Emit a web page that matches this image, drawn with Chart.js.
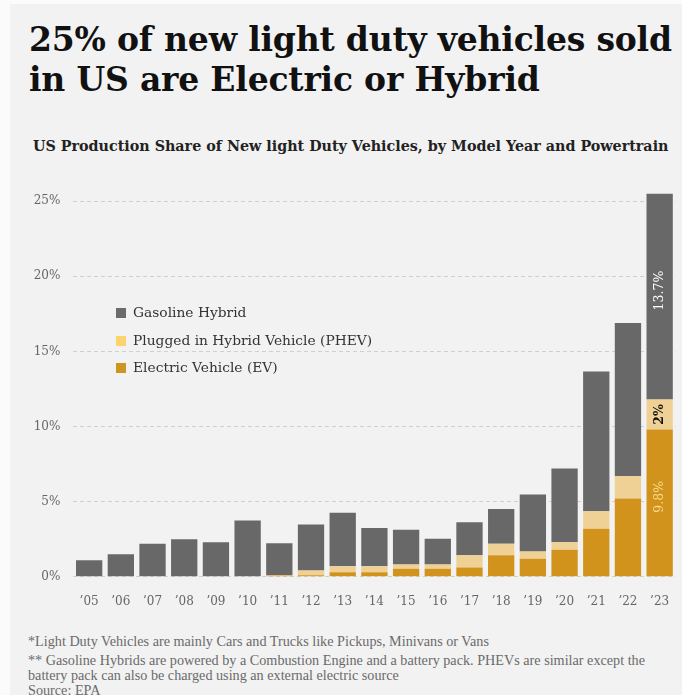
<!DOCTYPE html>
<html>
<head>
<meta charset="utf-8">
<script src="https://cdn.jsdelivr.net/npm/chart.js@4"></script>
<style>
  html, body { margin: 0; padding: 0; }
  body {
    width: 682px; height: 695px; overflow: hidden; position: relative;
    background: #f2f2f2; font-family: 'DejaVu Serif', serif;
    border-left: 10px solid #fbfbfb; border-top: 4px solid #fbfbfb; box-sizing: border-box;
  }
  .abs { position: absolute; white-space: nowrap; }
  #title { left: 19px; top: 16px; font-size: 33px; line-height: 40px; font-weight: bold; color: #111; letter-spacing: -0.2px; }
  #subtitle { left: 23px; top: 134px; font-size: 14.3px; line-height: 17px; font-weight: bold; color: #222; }
  #chartBox { left: -10px; top: 162px; width: 682px; height: 449px; }
  .legend { left: 106px; font-size: 13.8px; line-height: 17px; color: #333; }
  .legend span { display: inline-block; width: 10px; height: 10px; margin-right: 7px; vertical-align: -1px; }
  .note { left: 18px; font-family: 'Liberation Serif', serif; font-size: 14.2px; line-height: 15px; color: #6a6a6a; }
</style>
</head>
<body>
<div id="title" class="abs">25% of new light duty vehicles sold<br>in US are Electric or Hybrid</div>
<div id="subtitle" class="abs">US Production Share of New light Duty Vehicles, by Model Year and Powertrain</div>
<div id="chartBox" class="abs"><canvas id="chart" width="682" height="449"></canvas></div>
<div id="legend"></div>
<div class="abs note" style="top:630px">*Light Duty Vehicles are mainly Cars and Trucks like Pickups, Minivans or Vans</div>
<div class="abs note" style="top:649px">** Gasoline Hybrids are powered by a Combustion Engine and a battery pack. PHEVs are similar except the</div>
<div class="abs note" style="top:664px">battery pack can also be charged using an external electric source</div>
<div class="abs note" style="top:679px">Source: EPA</div>
<script>
const years = ['’05', '’06', '’07', '’08', '’09', '’10', '’11', '’12', '’13', '’14',
  '’15', '’16', '’17', '’18', '’19', '’20', '’21', '’22', '’23'];
const evShare = [0, 0, 0, 0, 0, 0, 0.08, 0.1, 0.3, 0.3, 0.53, 0.53, 0.62, 1.43, 1.2, 1.8, 3.2, 5.2, 9.8];
const phevShare = [0, 0, 0, 0, 0, 0, 0.04, 0.32, 0.4, 0.4, 0.29, 0.29, 0.81, 0.77, 0.48, 0.5, 1.16, 1.5, 2.0];
const hybridShare = [1.1, 1.5, 2.2, 2.5, 2.3, 3.75, 2.1, 3.05, 3.55, 2.55, 2.3, 1.7, 2.2, 2.3, 3.8, 4.9, 9.3, 10.2, 13.7];
const yTicks = [0, 5, 10, 15, 20, 25];

const colors = { hybrid: '#686868', phev: '#efd196', ev: '#d2931d' };
const legendItems = [
  { label: 'Gasoline Hybrid', color: '#6b6b6b' },
  { label: 'Plugged in Hybrid Vehicle (PHEV)', color: '#fbd46c' },
  { label: 'Electric Vehicle (EV)', color: '#cf961f' },
];

// legend sits inside the plot area, so it is plain html over the canvas
const legendEl = document.getElementById('legend');
legendItems.forEach((item, i) => {
  const row = document.createElement('div');
  row.className = 'abs legend';
  row.style.top = (300 + i * 27.5) + 'px';
  row.innerHTML = `<span style="background:${item.color}"></span>${item.label}`;
  legendEl.appendChild(row);
});

// rotated value labels on the last bar
const lastBarLabels = {
  id: 'lastBarLabels',
  afterDatasetsDraw(chart) {
    const ctx = chart.ctx;
    const styles = [
      { color: '#f7dc8c', weight: 'normal' },
      { color: '#111', weight: 'bold' },
      { color: '#ffffff', weight: 'normal' },
    ];
    chart.data.datasets.forEach((ds, i) => {
      const last = ds.data.length - 1;
      const bar = chart.getDatasetMeta(i).data[last];
      const cy = (bar.y + bar.base) / 2 - (i === 1 ? 0 : 6);
      ctx.save();
      ctx.translate(bar.x, cy);
      ctx.rotate(-Math.PI / 2);
      ctx.font = `${styles[i].weight} 12.5px 'DejaVu Serif'`;
      ctx.fillStyle = styles[i].color;
      ctx.textAlign = 'center';
      ctx.textBaseline = 'middle';
      ctx.fillText(ds.data[last] + '%', 0, 0);
      ctx.restore();
    });
  }
};

new Chart(document.getElementById('chart'), {
  type: 'bar',
  data: {
    labels: years,
    datasets: [
      { label: 'Electric Vehicle (EV)', data: evShare, backgroundColor: colors.ev },
      { label: 'Plugged in Hybrid Vehicle (PHEV)', data: phevShare, backgroundColor: colors.phev },
      { label: 'Gasoline Hybrid', data: hybridShare, backgroundColor: colors.hybrid },
    ]
  },
  options: {
    responsive: false,
    animation: false,
    layout: { padding: { top: 0, right: 6.5, left: 0, bottom: 0 } },
    datasets: { bar: { categoryPercentage: 1, barPercentage: 0.83 } },
    plugins: { legend: { display: false }, tooltip: { enabled: false } },
    scales: {
      x: {
        stacked: true,
        grid: { display: false },
        border: { display: false },
        ticks: { padding: 10, color: '#666', font: { family: 'DejaVu Serif', size: 12 } },
        afterFit(scale) { scale.height = 38.3; }
      },
      y: {
        stacked: true,
        min: 0,
        max: 26,
        afterBuildTicks(scale) { scale.ticks = yTicks.map(v => ({ value: v })); },
        afterFit(scale) { scale.width = 73.3; },
        grid: { color: '#d0d0d0', drawTicks: false },
        border: { display: false, dash: [4, 3] },
        ticks: {
          padding: 13,
          color: '#666',
          font: { family: 'DejaVu Serif', size: 12 },
          callback: v => v + '%'
        }
      }
    }
  },
  plugins: [lastBarLabels]
});
</script>
</body>
</html>
